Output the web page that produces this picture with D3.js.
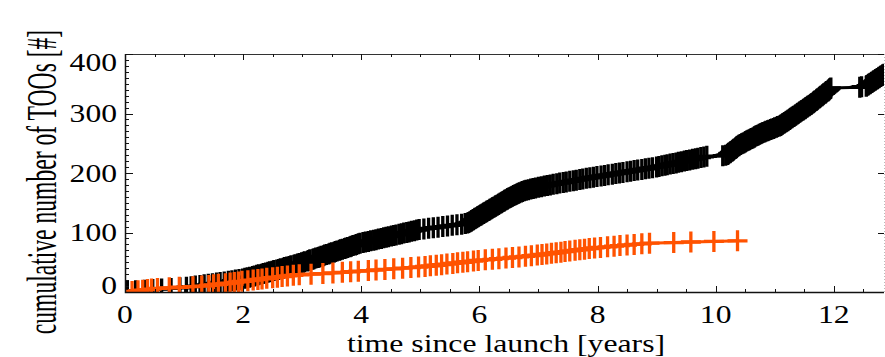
<!DOCTYPE html>
<html>
<head>
<meta charset="utf-8">
<script src="https://cdn.jsdelivr.net/npm/d3@7"></script>
<style>
body { margin: 0; background: #fff; }
svg { display: block; }
</style>
</head>
<body>
<script>
// event times (years since launch) of each TOO
const blackYears = [
	0.04, 0.18, 0.33, 0.47, 0.62, 0.78, 0.93,
	1.04, 1.12, 1.19, 1.27, 1.34, 1.41, 1.48, 1.55, 1.61, 1.68, 1.75, 1.81, 1.87, 1.93, 1.99,
	2.03, 2.07, 2.11, 2.16, 2.19, 2.23, 2.26, 2.31, 2.34, 2.38, 2.42, 2.45, 2.49, 2.52, 2.57, 2.60,
	2.63, 2.68, 2.70, 2.74, 2.78, 2.81, 2.86, 2.88, 2.92, 2.95, 2.99,
	3.02, 3.04, 3.09, 3.11, 3.13, 3.18, 3.20, 3.23, 3.27, 3.29, 3.32, 3.36, 3.38, 3.41, 3.45, 3.47,
	3.50, 3.54, 3.56, 3.59, 3.63, 3.65, 3.68, 3.72, 3.74, 3.77, 3.81, 3.83, 3.86, 3.90, 3.92, 3.95, 3.98,
	4.03, 4.07, 4.12, 4.16, 4.21, 4.25, 4.29, 4.34, 4.38, 4.42, 4.46, 4.51, 4.55, 4.59, 4.64, 4.68,
	4.72, 4.77, 4.81, 4.85, 4.90, 4.94, 4.98,
	5.06, 5.14, 5.22, 5.30, 5.38, 5.46, 5.54, 5.62, 5.70, 5.76,
	5.80, 5.82, 5.84, 5.86, 5.87, 5.89, 5.90, 5.92, 5.93, 5.95, 5.97, 5.98, 6.00, 6.02, 6.03, 6.05,
	6.07, 6.08, 6.10, 6.12, 6.13, 6.15, 6.17, 6.18, 6.20, 6.22, 6.23, 6.25, 6.27, 6.28, 6.30, 6.32,
	6.33, 6.35, 6.37, 6.38, 6.40, 6.42, 6.43, 6.45, 6.47, 6.48, 6.50, 6.52, 6.54, 6.56, 6.58, 6.60,
	6.62, 6.64, 6.66, 6.68, 6.71, 6.73, 6.76,
	6.79, 6.83, 6.87, 6.91, 6.95, 7.00, 7.05, 7.10, 7.15, 7.20,
	7.25, 7.31, 7.36, 7.42, 7.47, 7.53, 7.59, 7.64, 7.70, 7.75, 7.81, 7.87, 7.93, 7.99,
	8.06, 8.12, 8.18, 8.25, 8.31, 8.37, 8.43, 8.50, 8.56, 8.62, 8.68, 8.75, 8.81, 8.87, 8.93, 9.00,
	9.04, 9.09, 9.14, 9.18, 9.23, 9.28, 9.33, 9.37, 9.42, 9.47, 9.51, 9.56, 9.61, 9.66, 9.70, 9.75, 9.80, 9.85,
	10.12, 10.17,
	10.20, 10.21, 10.22, 10.24, 10.25, 10.26, 10.28, 10.29, 10.30, 10.31, 10.33, 10.34, 10.35, 10.36,
	10.37, 10.39, 10.40,
	10.42, 10.44, 10.46, 10.48, 10.50, 10.51, 10.53, 10.55, 10.57, 10.59, 10.61, 10.63, 10.65, 10.66,
	10.68, 10.70, 10.72, 10.74, 10.76, 10.78, 10.80,
	10.83, 10.85, 10.88, 10.90, 10.93, 10.95, 10.98, 11.00, 11.03, 11.05, 11.08, 11.10,
	11.11, 11.13, 11.14, 11.16, 11.17, 11.19, 11.20, 11.22, 11.23, 11.25, 11.26, 11.27, 11.29, 11.30,
	11.32, 11.33, 11.35, 11.36, 11.38, 11.39, 11.40, 11.42, 11.43, 11.45, 11.46, 11.48, 11.49, 11.51,
	11.52, 11.53, 11.55, 11.56, 11.58, 11.59, 11.61, 11.62, 11.63, 11.65, 11.66,
	11.67, 11.68, 11.70, 11.71, 11.72, 11.73, 11.75, 11.76, 11.77, 11.78, 11.80, 11.81, 11.82, 11.83,
	11.85, 11.86, 11.87, 11.88, 11.90, 11.91, 11.92, 11.93, 11.94, 11.95,
	12.44, 12.47,
	12.55, 12.56, 12.58, 12.59, 12.61, 12.62, 12.64, 12.65, 12.67, 12.68, 12.70, 12.71, 12.73, 12.74,
	12.76, 12.77, 12.79, 12.80, 12.82, 12.83, 12.85,
];

const orangeYears = [
	0.12, 0.22, 0.30, 0.38, 0.45, 0.55, 0.75, 0.92,
	1.15, 1.30, 1.42, 1.50, 1.58, 1.70, 1.78, 1.85, 1.92, 1.98,
	2.08, 2.17, 2.25, 2.32, 2.40, 2.50, 2.58, 2.66, 2.75, 2.85, 2.95,
	3.15, 3.35, 3.52, 3.68, 3.82, 3.95,
	4.12, 4.25, 4.40, 4.55, 4.70, 4.84, 4.97,
	5.08, 5.17, 5.27, 5.36, 5.45, 5.55, 5.63, 5.72, 5.80, 5.90, 5.98,
	6.10, 6.22, 6.33, 6.45, 6.56, 6.67, 6.78, 6.88, 6.98,
	7.06, 7.14, 7.22, 7.30, 7.38, 7.45, 7.53, 7.62, 7.70, 7.78, 7.86, 7.95,
	8.05, 8.17, 8.28, 8.38, 8.50, 8.62, 8.75, 8.88,
	9.29, 9.58, 9.97, 10.37,
];

const xTickLabels = [0, 2, 4, 6, 8, 10, 12];
const yTickLabels = [0, 100, 200, 300, 400];
const xTitle = 'time since launch [years]';
const yTitle = 'cumulative number of TOOs [#]';

const width = 885;
const height = 357;
const plotLeft = 125;
const plotRight = 884;
const plotTop = 54;
const plotBottom = 292;
const font = '"Liberation Serif", "Times New Roman", serif';
const fontSize = 25.5;
const stretch = 1.24;

const x = d3.scaleLinear([0, 12.85], [plotLeft, plotRight]);
const y = d3.scaleLinear([0, 400], [plotBottom, plotTop]);

const svg = d3.select('body').append('svg')
	.attr('width', width)
	.attr('height', height)
	.attr('viewBox', [0, 0, width, height]);

svg.append('clipPath').attr('id', 'plot')
	.append('rect')
	.attr('x', plotLeft).attr('y', plotTop)
	.attr('width', plotRight - plotLeft).attr('height', plotBottom - plotTop);

const plot = svg.append('g').attr('clip-path', 'url(#plot)');

function series(times, color) {
	const pts = [[0, 0], ...times.map((t, i) => [t, i + 1])];
	const line = d3.line().x(d => x(d[0])).y(d => y(d[1]));
	plot.append('path')
		.attr('fill', 'none')
		.attr('stroke', color)
		.attr('stroke-width', 3)
		.attr('stroke-linejoin', 'round')
		.attr('d', line(pts));
	plot.append('g').selectAll('path')
		.data(pts.slice(1))
		.join('path')
		.attr('fill', 'none')
		.attr('stroke', color)
		.attr('stroke-width', 3.3)
		.attr('d', d => {
			const px = x(d[0]);
			const py = y(d[1]);
			return `M${px - 10},${py}h20M${px},${py - 10.5}v21`;
		});
}

series(blackYears, '#000');
series(orangeYears, '#ff5200');

// frame
const axis = svg.append('g').attr('fill', 'none').attr('stroke', '#111').attr('stroke-width', 1);
axis.append('path').attr('d', `M${plotLeft + 0.5},${plotTop}V${plotBottom + 0.5}H${plotRight}`).attr('stroke-width', 1.5);
axis.append('path').attr('d', `M${plotLeft},${plotTop + 0.5}H${plotRight}`).attr('stroke', '#333');
axis.append('path').attr('d', `M${plotRight + 0.5},${plotTop}V${plotBottom}`)
	.attr('stroke', '#bbb').attr('stroke-dasharray', '1,2');

// x ticks: bottom pointing up, top pointing down
const xMinor = d3.range(0, 12.9, 0.5);
axis.append('g').selectAll('path')
	.data(xMinor)
	.join('path')
	.attr('d', v => {
		const len = v % 2 === 0 ? 6 : 3;
		const px = Math.round(x(v)) + 0.5;
		return `M${px},${plotBottom}v${-len}M${px},${plotTop}v${len}`;
	});

// y ticks: left pointing right, right pointing left
const yMinor = d3.range(0, 401, 10);
axis.append('g').selectAll('path')
	.data(yMinor)
	.join('path')
	.attr('d', v => {
		const major = v % 100 === 0;
		const py = Math.round(y(v)) + 0.5;
		let d = `M${plotLeft},${py}h${major ? 8 : 4}`;
		if (major) d += `M${plotRight},${py}h-6`;
		return d;
	});

function label(txt, px, py, anchor, size, sx, rot) {
	svg.append('text')
		.attr('transform', `translate(${px},${py}) scale(${sx},1)` + (rot ? ' rotate(-90)' : ''))
		.attr('text-anchor', anchor)
		.attr('font-family', font)
		.attr('font-size', size)
		.attr('fill', '#000')
		.text(txt);
}

for (const v of xTickLabels) label(v, x(v), 323, 'middle', fontSize, stretch);
// end labels are kept inside the frame
for (const v of yTickLabels) {
	const cy = Math.max(plotTop + 8, Math.min(plotBottom - 7, y(v)));
	label(v, 117, cy + 8.8, 'end', fontSize, stretch);
}

label(xTitle, 506, 352, 'middle', 25, 1.27);
label(yTitle, 56, 182, 'middle', 23.6, 1.75, true);
</script>
</body>
</html>
